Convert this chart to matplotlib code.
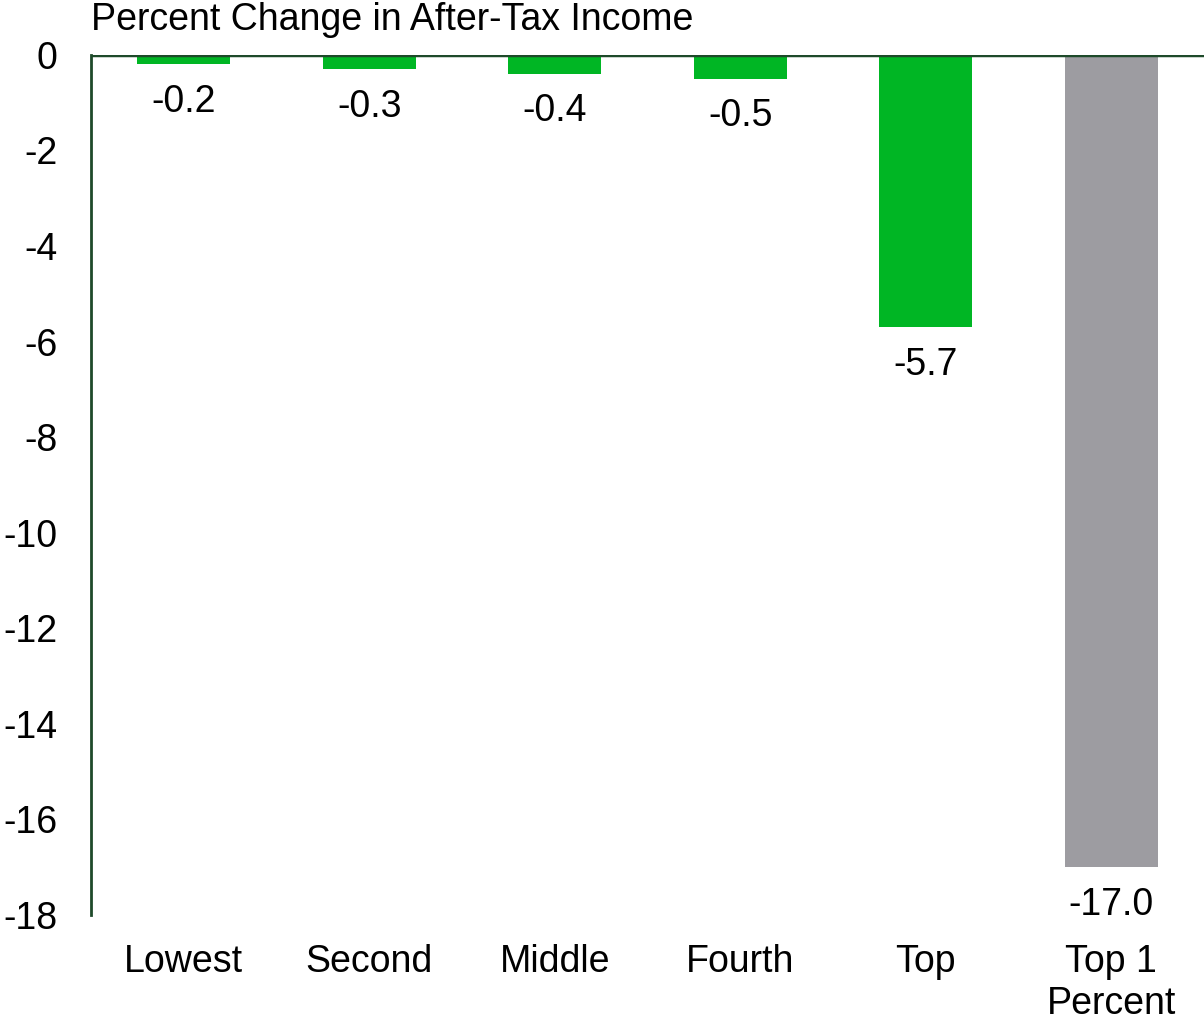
import matplotlib.pyplot as plt

plt.rcParams['font.family'] = ['Liberation Sans', 'DejaVu Sans']

groups = ['Lowest', 'Second', 'Middle', 'Fourth', 'Top', 'Top 1\nPercent']
change = [-0.2, -0.3, -0.4, -0.5, -5.7, -17.0]
labels = ['-0.2', '-0.3', '-0.4', '-0.5', '-5.7', '-17.0']
colors = ['#00b624'] * 5 + ['#9d9ca1']
axis_color = '#1e4a2a'
fs = 27

fig = plt.figure(figsize=(12.04, 10.23), dpi=100)
ax = fig.add_axes([0.0756, 0.1056, 0.9244, 0.8407])

x = range(len(groups))
ax.bar(x, change, width=0.5, color=colors)
ax.axhline(0, color=axis_color, linewidth=2.5, zorder=3)

for i, (v, t) in enumerate(zip(change, labels)):
    ax.annotate(t, (i, v), xytext=(0, -14), textcoords='offset points',
                ha='center', va='top', fontsize=fs)

ax.set_xlim(-0.5, 5.5)
ax.set_ylim(-18, 0)
ax.set_yticks(range(-18, 1, 2))
ax.set_yticklabels([str(v) for v in range(-18, 1, 2)])
ax.set_xticks(list(x))
ax.set_xticklabels(groups, linespacing=1.2)
ax.tick_params(axis='both', length=0, labelsize=fs)
ax.tick_params(axis='y', pad=24)
ax.tick_params(axis='x', pad=21)

for side in ['top', 'right', 'bottom']:
    ax.spines[side].set_visible(False)
ax.spines['left'].set_color(axis_color)
ax.spines['left'].set_linewidth(2)

fig.text(0.0756, 0.980, 'Percent Change in After-Tax Income', fontsize=fs,
         ha='left', va='center')

fig.savefig('out.png', dpi=100)
